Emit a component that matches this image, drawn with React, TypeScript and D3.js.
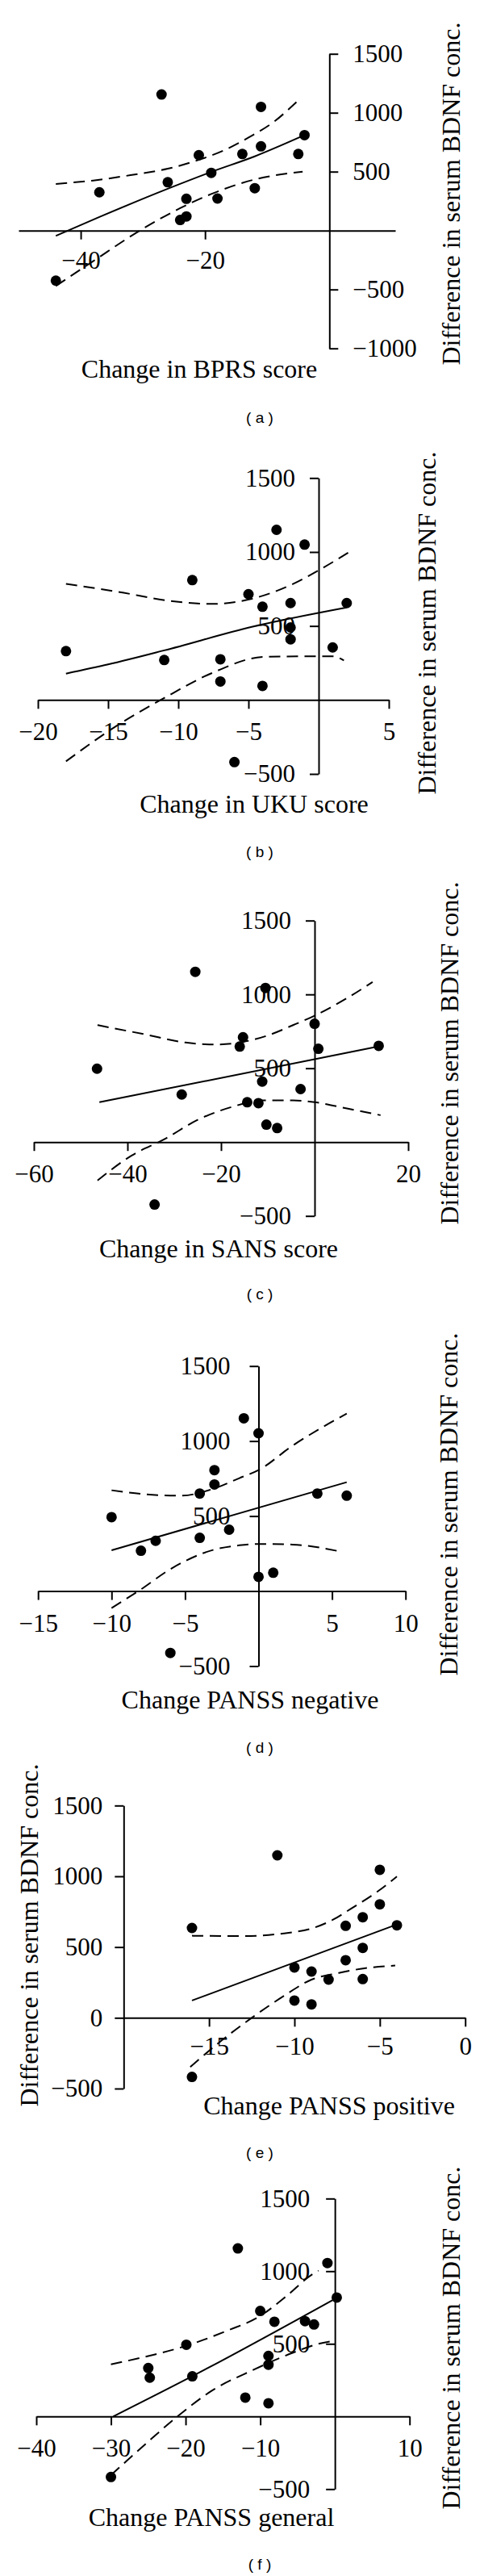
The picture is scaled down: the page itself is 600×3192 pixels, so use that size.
import React, { useEffect, useRef } from "react";
import * as d3 from "d3";

// values (change score vs BDNF difference)
const bprsChange = [-27, -11, -4, -21, -14, -11, -5, -19, -26, -37, -23, -18, -12, -24, -23, -44];
const bprsBdnf = [1155, 1050, 810, 640, 650, 715, 650, 490, 410, 325, 270, 272, 360, 90, 120, -425];
const bprsFit = [[-44, -45], [-37, 115], [-26, 355], [-19, 498], [-12, 630], [-4, 810]];
const bprsUpper = [[-44, 396], [-38, 425], [-32, 470], [-26, 525], [-21, 600], [-17, 680], [-13, 790], [-9, 920], [-5.3, 1090]];
const bprsLower = [[-44, -470], [-38, -260], [-30.5, 0], [-24, 190], [-19, 310], [-12.3, 430], [-4.3, 500]];

const ukuChange = [-3, -1, -9, -5, -4, -2, 2, -2, -2, 1, -18, -11, -7, -7, -4, -6];
const ukuBdnf = [1150, 1050, 810, 715, 630, 655, 655, 490, 410, 355, 330, 270, 275, 125, 95, -420];
const ukuFit = [[-18, 178], [-15, 240], [-11, 335], [-4.7, 495], [2, 625]];
const ukuUpper = [[-18, 785], [-14.3, 731], [-10.4, 667], [-7.6, 649], [-4.7, 685], [-1.8, 785], [0, 876], [2.1, 995]];
const ukuLower = [[-18, -415], [-14.3, -169], [-11, 13], [-7.6, 182], [-3.9, 291], [-0.9, 295], [1, 295], [1.8, 267]];

const sansChange = [-25.5, -10.5, 0, -15.3, -16, 0.8, 13.7, -46.5, -11.2, -3, -28.4, -14.4, -12, -10.3, -8, -34.2];
const sansBdnf = [1153, 1044, 801, 710, 647, 632, 652, 497, 410, 359, 322, 270, 264, 118, 95, -423];
const sansFit = [[-46, 270], [14, 650]];
const sansUpper = [[-46.4, 792], [-36.2, 729], [-27.6, 674], [-21.3, 661], [-16.1, 674], [-10.3, 719], [-4.6, 792], [0, 856], [6.9, 974], [12.4, 1084]];
const sansLower = [[-46.4, -260], [-39.1, -91], [-32.2, 18], [-24.7, 155], [-17.8, 237], [-10.9, 282], [-4.6, 282], [0, 270], [6.9, 228], [14.1, 182]];

const negChange = [-1, 0, -3, -3, -4, 4, 6, -10, -2, -4, -7, -8, 0, 1, -6];
const negBdnf = [1152, 1052, 806, 711, 650, 650, 636, 493, 409, 355, 335, 269, 95, 122, -412];
const negFit = [[-10, 272], [6, 726]];
const negUpper = [[-10, 672], [-7.7, 645], [-5.3, 636], [-3.1, 681], [-1.3, 753], [0, 806], [2.3, 968], [4.2, 1084], [6, 1183]];
const negLower = [[-10, -113], [-8.1, 5], [-5.9, 152], [-3.1, 274], [-1.3, 305], [0, 314], [2.3, 310], [5.6, 263]];

const posChange = [-11, -5, -5, -6, -7, -4, -16, -6, -7, -10, -9, -8, -6, -10, -9, -16];
const posBdnf = [1148, 1046, 802, 711, 650, 654, 635, 494, 407, 356, 327, 270, 274, 122, 95, -418];
const posFit = [[-16, 122], [-4, 660]];
const posUpper = [[-16, 580], [-12.95, 578], [-10.6, 597], [-9, 631], [-7.76, 692], [-6.65, 774], [-5.08, 897], [-4, 998]];
const posLower = [[-16.1, -348], [-14.5, -183], [-12.5, 0], [-10.6, 156], [-9, 270], [-7.4, 317], [-5.9, 350], [-4.1, 369]];

const genChange = [-13, -1, 0.25, -10, -8.1, -4, -2.8, -19.9, -8.9, -8.9, -25, -24.8, -19.1, -12, -8.9, -30];
const genBdnf = [1157, 1056, 819, 726, 652, 656, 633, 494, 417, 356, 333, 267, 276, 130, 91, -417];
const genFit = [[-29.7, 0], [-19, 280], [0, 810]];
const genUpper = [[-30, 359], [-25.4, 411], [-20, 485], [-14.6, 587], [-10.1, 689], [-6.5, 828], [-3.1, 976], [-2.2, 1004]];
const genLower = [[-30, -404], [-25.4, -191], [-21.1, 0], [-16.4, 180], [-11, 319], [-5.6, 439], [-2.2, 500], [-0.5, 517]];

const yTitle = "Difference in serum BDNF conc.";
const xTitles = ["Change in BPRS score", "Change in UKU score", "Change in SANS score", "Change PANSS negative", "Change PANSS positive", "Change PANSS general"];
const captions = ["( a )", "( b )", "( c )", "( d )", "( e )", "( f )"];

const panels = [
  { xs: bprsChange, ys: bprsBdnf, fit: bprsFit, up: bprsUpper, lo: bprsLower,
    xDom: [-50, 10.6], xRange: [23, 490], yDom: [-1000, 1500], yRange: [431.7, 66.7],
    xTicks: [-40, -20], yTicks: [1500, 1000, 500, -500, -1000], yAt: 0, right: true,
    xPad: 14, yOff: 29, yTitleX: 570, yTitleY: 240, xTitleX: 247, xTitleY: 468, capY: 524 },
  { xs: ukuChange, ys: ukuBdnf, fit: ukuFit, up: ukuUpper, lo: ukuLower,
    xDom: [-20, 5], xRange: [47, 482], yDom: [-500, 1500], yRange: [959, 592.3],
    xTicks: [-20, -15, -10, -5, 5], yTicks: [1500, 1000, 500, -500], yAt: 0, right: false,
    xPad: 17, yOff: 29, yTitleX: 540, yTitleY: 772, xTitleX: 315, xTitleY: 1007, capY: 1062 },
  { xs: sansChange, ys: sansBdnf, fit: sansFit, up: sansUpper, lo: sansLower,
    xDom: [-60, 20], xRange: [42, 506], yDom: [-500, 1500], yRange: [1506.7, 1140.7],
    xTicks: [-60, -40, -20, 20], yTicks: [1500, 1000, 500, -500], yAt: 0, right: false,
    xPad: 17, yOff: 29, yTitleX: 568, yTitleY: 1305, xTitleX: 271, xTitleY: 1558, capY: 1610 },
  { xs: negChange, ys: negBdnf, fit: negFit, up: negUpper, lo: negLower,
    xDom: [-15, 10], xRange: [47.2, 502.7], yDom: [-500, 1500], yRange: [2064.5, 1692.7],
    xTicks: [-15, -10, -5, 5, 10], yTicks: [1500, 1000, 500, -500], yAt: 0, right: false,
    xPad: 17, yOff: 35, yTitleX: 567, yTitleY: 1864, xTitleX: 310, xTitleY: 2117, capY: 2172 },
  { xs: posChange, ys: posBdnf, fit: posFit, up: posUpper, lo: posLower,
    xDom: [-20, 0], xRange: [153.3, 576.7], yDom: [-500, 1500], yRange: [2588, 2237.3],
    xTicks: [-15, -10, -5, 0], yTicks: [1500, 1000, 500, 0, -500], yAt: -20, right: false,
    xPad: 13, yOff: 26, yTitleX: 47, yTitleY: 2398, xTitleX: 408, xTitleY: 2620, capY: 2674 },
  { xs: genChange, ys: genBdnf, fit: genFit, up: genUpper, lo: genLower,
    xDom: [-40, 10], xRange: [45, 507.7], yDom: [-500, 1500], yRange: [3084.3, 2724.3],
    xTicks: [-40, -30, -20, -10, 10], yTicks: [1500, 1000, 500, -500], yAt: 0, right: false,
    xPad: 17, yOff: 31, yTitleX: 570, yTitleY: 2897, xTitleX: 262, xTitleY: 3130, capY: 3184 },
];

const serif = "'Liberation Serif', 'Times New Roman', serif";
const fmt = (d) => (d < 0 ? "\u2212" + Math.abs(d) : String(d));

export default function App() {
  const ref = useRef(null);

  useEffect(() => {
    const svg = d3.select(ref.current);
    svg.selectAll("*").remove();

    panels.forEach((p, i) => {
      const x = d3.scaleLinear().domain(p.xDom).range(p.xRange);
      const y = d3.scaleLinear().domain(p.yDom).range(p.yRange);
      const g = svg.append("g");

      // x axis through y = 0
      const xa = g.append("g")
        .attr("transform", `translate(0,${y(0)})`)
        .call(d3.axisBottom(x).tickValues(p.xTicks).tickSize(11).tickSizeOuter(0).tickPadding(p.xPad).tickFormat(fmt));

      const yAxis = p.right ? d3.axisRight(y) : d3.axisLeft(y);
      const ya = g.append("g")
        .attr("transform", `translate(${x(p.yAt)},0)`)
        .call(yAxis.tickValues(p.yTicks).tickSize(11).tickSizeOuter(0).tickPadding(p.yOff - 11).tickFormat(fmt));

      [xa, ya].forEach((a) => {
        a.attr("font-family", serif).attr("font-size", 31);
        a.selectAll("path, line").attr("stroke", "#000").attr("stroke-width", 2);
        a.selectAll("text").attr("fill", "#000");
      });

      const line = d3.line().x((d) => x(d[0])).y((d) => y(d[1]));
      const curve = d3.line().x((d) => x(d[0])).y((d) => y(d[1])).curve(d3.curveMonotoneX);

      [p.up, p.lo].forEach((band) => {
        g.append("path")
          .attr("d", curve(band))
          .attr("fill", "none")
          .attr("stroke", "#000")
          .attr("stroke-width", 2)
          .attr("stroke-dasharray", "14,8");
      });

      g.append("path")
        .attr("d", curve(p.fit))
        .attr("fill", "none")
        .attr("stroke", "#000")
        .attr("stroke-width", 2);

      g.selectAll("circle")
        .data(p.xs.map((v, k) => [v, p.ys[k]]))
        .join("circle")
        .attr("cx", (d) => x(d[0]))
        .attr("cy", (d) => y(d[1]))
        .attr("r", 6.5)
        .attr("fill", "#000");

      g.append("text")
        .attr("x", p.xTitleX)
        .attr("y", p.xTitleY)
        .attr("text-anchor", "middle")
        .attr("font-family", serif)
        .attr("font-size", 32)
        .text(xTitles[i]);

      g.append("text")
        .attr("transform", `translate(${p.yTitleX},${p.yTitleY}) rotate(-90)`)
        .attr("text-anchor", "middle")
        .attr("font-family", serif)
        .attr("font-size", 32)
        .text(yTitle);

      g.append("text")
        .attr("x", 322)
        .attr("y", p.capY)
        .attr("text-anchor", "middle")
        .attr("font-family", "'Liberation Sans', Arial, sans-serif")
        .attr("font-size", 19)
        .text(captions[i]);
    });
  }, []);

  return (
    <svg
      ref={ref}
      width={600}
      height={3192}
      style={{ position: "absolute", left: 0, top: 0, background: "#fff" }}
    />
  );
}
